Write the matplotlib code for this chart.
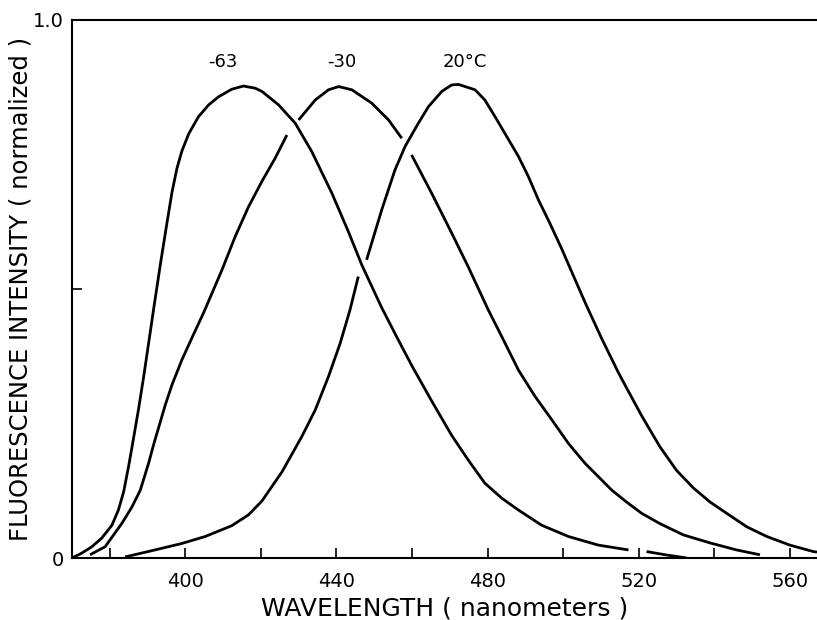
import numpy as np
import matplotlib.pyplot as plt

# wavelength (nm) and normalized intensity; nan = pen gap
wl_m63 = [370, 372.6, 375.3, 377.9, 380.6, 382.3, 383.7, 385.0, 386.3, 387.6, 389.0,
          390.3, 391.6, 393.4, 395.1, 396.5, 397.8, 399.1, 400.9, 403.5, 406.2,
          408.8, 412.3, 415.4, 418.5, 420.3, 424.7, 429.1, 433.5, 438.8, 443.2,
          446.7, 452.0, 456.4, 460.0, 465.2, 470.5, 474.9, 479.3, 483.8, 488.2,
          494.3, 501.4, 509.3, 517.3, 519.5, 522.1, 527.0, 532.7]
int_m63 = [0, 0.009, 0.021, 0.037, 0.061, 0.089, 0.123, 0.170, 0.222, 0.275, 0.337,
           0.399, 0.461, 0.545, 0.620, 0.680, 0.724, 0.756, 0.788, 0.820, 0.842,
           0.857, 0.871, 0.877, 0.873, 0.867, 0.842, 0.808, 0.755, 0.678, 0.606,
           0.545, 0.465, 0.405, 0.357, 0.292, 0.228, 0.182, 0.139, 0.111, 0.089,
           0.061, 0.040, 0.024, 0.015, np.nan, 0.012, 0.006, 0.0]

wl_m30 = [374.8, 378.8, 383.2, 385.9, 388.1, 390.3, 391.6, 393.4, 394.7, 396.5, 399.1,
          401.7, 405.0, 409.7, 413.2, 416.7, 420.3, 423.8, 426.9, 428.5, 430.0,
          434.4, 437.9, 440.6, 444.1, 449.4, 453.8, 457.3, 458.6, 459.9, 465.2,
          470.5, 474.9, 480.2, 483.8, 488.2, 492.6, 497.0, 501.4, 505.8, 512.9,
          516.8, 520.8, 525.6, 531.8, 538.9, 545.9, 552.1]
int_m30 = [0.006, 0.021, 0.064, 0.095, 0.126, 0.176, 0.210, 0.253, 0.284, 0.322, 0.368,
           0.408, 0.458, 0.535, 0.597, 0.652, 0.700, 0.743, 0.786, np.nan, 0.814,
           0.851, 0.870, 0.876, 0.870, 0.845, 0.814, 0.780, np.nan, 0.749, 0.678,
           0.604, 0.541, 0.461, 0.411, 0.349, 0.300, 0.257, 0.213, 0.176, 0.126,
           0.104, 0.083, 0.064, 0.043, 0.028, 0.015, 0.006]

wl_20 = [384.1, 392.0, 399.1, 405.3, 412.3, 416.7, 420.3, 425.6, 430.8, 434.4, 437.9,
         441.0, 443.6, 445.8, 446.9, 448.0, 452.0, 455.5, 458.2, 461.7, 464.4,
         467.9, 470.5, 472.3, 476.7, 479.3, 482.0, 485.1, 488.2, 490.8, 493.5,
         496.5, 499.6, 502.7, 506.0, 510.2, 514.6, 516.8, 520.9, 525.6, 530.0,
         534.5, 538.9, 543.3, 548.6, 553.9, 560.0, 566.2, 567.2]
int_20 = [0.002, 0.015, 0.027, 0.040, 0.060, 0.080, 0.106, 0.160, 0.225, 0.275, 0.337,
          0.399, 0.461, 0.523, np.nan, 0.554, 0.647, 0.721, 0.765, 0.808, 0.839,
          0.867, 0.879, 0.880, 0.870, 0.851, 0.820, 0.783, 0.746, 0.709, 0.665,
          0.622, 0.575, 0.525, 0.472, 0.408, 0.345, 0.316, 0.263, 0.207, 0.163,
          0.130, 0.104, 0.083, 0.058, 0.040, 0.024, 0.012, 0.011]

temp_labels = ['-63', '-30', '20°C']
label_wl = [410, 441.5, 474]

x_major = [400, 440, 480, 520, 560]
x_minor = [380, 420, 460, 500, 540]

fig = plt.figure(figsize=(8.17, 6.2), dpi=100)
ax = fig.add_axes([0.088, 0.10, 0.912, 0.868])

for wl, inten in [(wl_m63, int_m63), (wl_m30, int_m30), (wl_20, int_20)]:
    ax.plot(wl, inten, color='black', lw=2.0, solid_capstyle='butt',
            solid_joinstyle='round')

for lab, x in zip(temp_labels, label_wl):
    ax.text(x, 0.905, lab, ha='center', va='bottom', fontsize=13)

ax.set_xlim(370, 567.2)
ax.set_ylim(0, 1.0)
ax.set_xticks(x_major)
ax.set_xticks(x_minor, minor=True)
ax.set_yticks([0, 0.5, 1.0])
ax.set_yticklabels(['0', '', '1.0'])
ax.tick_params(axis='both', which='both', direction='in', length=7, width=1.2,
               labelsize=14)
ax.tick_params(axis='x', pad=10)
ax.tick_params(axis='y', pad=6)

ax.spines['right'].set_visible(False)
for s in ['left', 'bottom', 'top']:
    ax.spines[s].set_linewidth(1.5)

ax.set_xlabel('WAVELENGTH ( nanometers )', fontsize=18, labelpad=4)
ax.set_ylabel('FLUORESCENCE INTENSITY ( normalized )', fontsize=17.5, labelpad=0)

fig.savefig('out.png', dpi=100)
